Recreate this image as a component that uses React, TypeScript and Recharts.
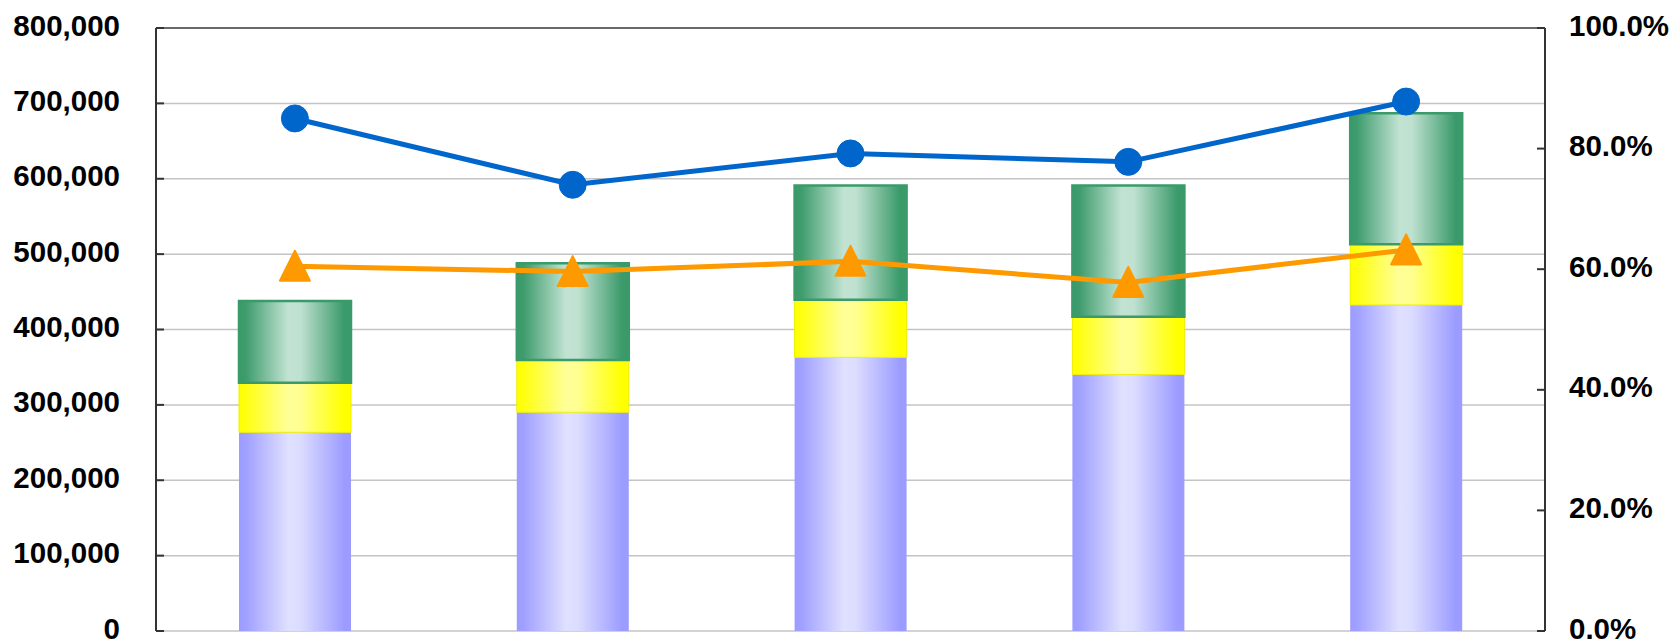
import React from "react";
import {
  ComposedChart,
  Bar,
  Line,
  XAxis,
  YAxis,
  CartesianGrid,
  ReferenceLine,
} from "recharts";

const categories = ["1", "2", "3", "4", "5"];
const baseValues = [263600, 290200, 363100, 340400, 432500];
const midValues = [65800, 69300, 76400, 76400, 80500];
const topValues = [108400, 128300, 151400, 174100, 173800];
const rateA = [85.0, 74.0, 79.2, 77.8, 87.8];
const rateB = [60.5, 59.6, 61.3, 57.8, 63.2];

const leftTicks = [0, 100000, 200000, 300000, 400000, 500000, 600000, 700000, 800000];
const rightTicks = [0, 20, 40, 60, 80, 100];
const edgeTicks = [0, 1, 2, 3, 4, 5];

const data = categories.map((name, i) => ({
  name,
  pos: i + 0.5,
  base: baseValues[i],
  mid: midValues[i],
  top: topValues[i],
  rateA: rateA[i],
  rateB: rateB[i],
}));

const FONT = "'Liberation Sans', Arial, sans-serif";
const LEFT_MARGIN = 36;
const RIGHT_MARGIN = 24;

function LeftTick(props: any) {
  const { x, y, payload } = props;
  const ax = x + LEFT_MARGIN;
  return (
    <g>
      <line x1={ax} x2={ax + 8} y1={y} y2={y} stroke="#333" strokeWidth={2} />
      <text
        x={x}
        y={y + 7.5}
        textAnchor="end"
        fontFamily={FONT}
        fontWeight="bold"
        fontSize={29.5}
        fill="#000"
      >
        {Number(payload.value).toLocaleString("en-US")}
      </text>
    </g>
  );
}

function RightTick(props: any) {
  const { x, y, payload } = props;
  const ax = x - RIGHT_MARGIN;
  return (
    <g>
      <line x1={ax - 8} x2={ax} y1={y} y2={y} stroke="#333" strokeWidth={2} />
      <text
        x={x}
        y={y + 7.5}
        textAnchor="start"
        fontFamily={FONT}
        fontWeight="bold"
        fontSize={29.5}
        fill="#000"
      >
        {`${Number(payload.value).toFixed(1)}%`}
      </text>
    </g>
  );
}

function Triangle(props: any) {
  const { cx, cy } = props;
  if (cx == null || cy == null) return null;
  return (
    <polygon
      points={`${cx},${cy - 15.5} ${cx - 15},${cy + 14.5} ${cx + 15},${cy + 14.5}`}
      fill="#ff9900"
      stroke="#ff9900"
      strokeWidth={2}
      strokeLinejoin="round"
    />
  );
}

export default function App() {
  return (
    <div
      style={{
        position: "absolute",
        left: 0,
        top: 0,
        width: 1673,
        height: 640,
        overflow: "hidden",
        background: "#fff",
      }}
    >
      <ComposedChart
        width={1673}
        height={680}
        data={data}
        margin={{ top: 28, right: 0, bottom: 0, left: 0 }}
        barSize={112}
      >
        <defs>
          <linearGradient id="gBase" x1="0" y1="0" x2="1" y2="0">
            <stop offset="0%" stopColor="#9c9cff" />
            <stop offset="6%" stopColor="#a0a0ff" />
            <stop offset="44%" stopColor="#e0e0ff" />
            <stop offset="55%" stopColor="#dcdcff" />
            <stop offset="94%" stopColor="#9c9cff" />
            <stop offset="100%" stopColor="#9c9cff" />
          </linearGradient>
          <linearGradient id="gMid" x1="0" y1="0" x2="1" y2="0">
            <stop offset="0%" stopColor="#ffff00" />
            <stop offset="6%" stopColor="#ffff10" />
            <stop offset="44%" stopColor="#ffff99" />
            <stop offset="55%" stopColor="#ffff90" />
            <stop offset="94%" stopColor="#ffff00" />
            <stop offset="100%" stopColor="#ffff00" />
          </linearGradient>
          <linearGradient id="gTop" x1="0" y1="0" x2="1" y2="0">
            <stop offset="0%" stopColor="#3a9a6a" />
            <stop offset="6%" stopColor="#3e9c6d" />
            <stop offset="44%" stopColor="#c2e3d3" />
            <stop offset="55%" stopColor="#bfe1d0" />
            <stop offset="94%" stopColor="#3a9a6a" />
            <stop offset="100%" stopColor="#3a9a6a" />
          </linearGradient>
        </defs>
        <CartesianGrid
          vertical={false}
          stroke="#c4c4c4"
          strokeWidth={1.5}
          yAxisId="left"
          xAxisId="edges"
        />
        <XAxis xAxisId="cat" dataKey="name" type="category" hide />
        <XAxis
          xAxisId="edges"
          dataKey="pos"
          type="number"
          domain={[0, 5]}
          ticks={edgeTicks}
          height={49}
          axisLine={{ stroke: "#111", strokeWidth: 3 }}
          tickLine={{ stroke: "#333", strokeWidth: 2 }}
          tickSize={10}
          tickFormatter={() => ""}
        />
        <YAxis
          yAxisId="left"
          orientation="left"
          width={156}
          domain={[0, 800000]}
          ticks={leftTicks}
          interval={0}
          axisLine={{ stroke: "#333", strokeWidth: 2 }}
          tickLine={false}
          tickSize={0}
          tickMargin={LEFT_MARGIN}
          tick={<LeftTick />}
        />
        <YAxis
          yAxisId="right"
          orientation="right"
          width={128}
          domain={[0, 100]}
          ticks={rightTicks}
          interval={0}
          axisLine={{ stroke: "#333", strokeWidth: 2 }}
          tickLine={false}
          tickSize={0}
          tickMargin={RIGHT_MARGIN}
          tick={<RightTick />}
        />
        <ReferenceLine
          yAxisId="left"
          xAxisId="edges"
          y={800000}
          stroke="#6a6a6a"
          strokeWidth={2}
        />
        <Bar
          xAxisId="cat"
          yAxisId="left"
          dataKey="base"
          stackId="s"
          fill="url(#gBase)"
          isAnimationActive={false}
        />
        <Bar
          xAxisId="cat"
          yAxisId="left"
          dataKey="mid"
          stackId="s"
          fill="url(#gMid)"
          stroke="#eeee00"
          strokeWidth={1}
          isAnimationActive={false}
        />
        <Bar
          xAxisId="cat"
          yAxisId="left"
          dataKey="top"
          stackId="s"
          fill="url(#gTop)"
          stroke="#3a9a6a"
          strokeWidth={2.5}
          isAnimationActive={false}
        />
        <Line
          xAxisId="cat"
          yAxisId="right"
          dataKey="rateA"
          stroke="#0066cc"
          strokeWidth={5}
          dot={{ r: 13.5, fill: "#0066cc", stroke: "#0066cc", strokeWidth: 1 }}
          activeDot={false}
          isAnimationActive={false}
        />
        <Line
          xAxisId="cat"
          yAxisId="right"
          dataKey="rateB"
          stroke="#ff9900"
          strokeWidth={5}
          dot={<Triangle />}
          activeDot={false}
          isAnimationActive={false}
        />
      </ComposedChart>
    </div>
  );
}
